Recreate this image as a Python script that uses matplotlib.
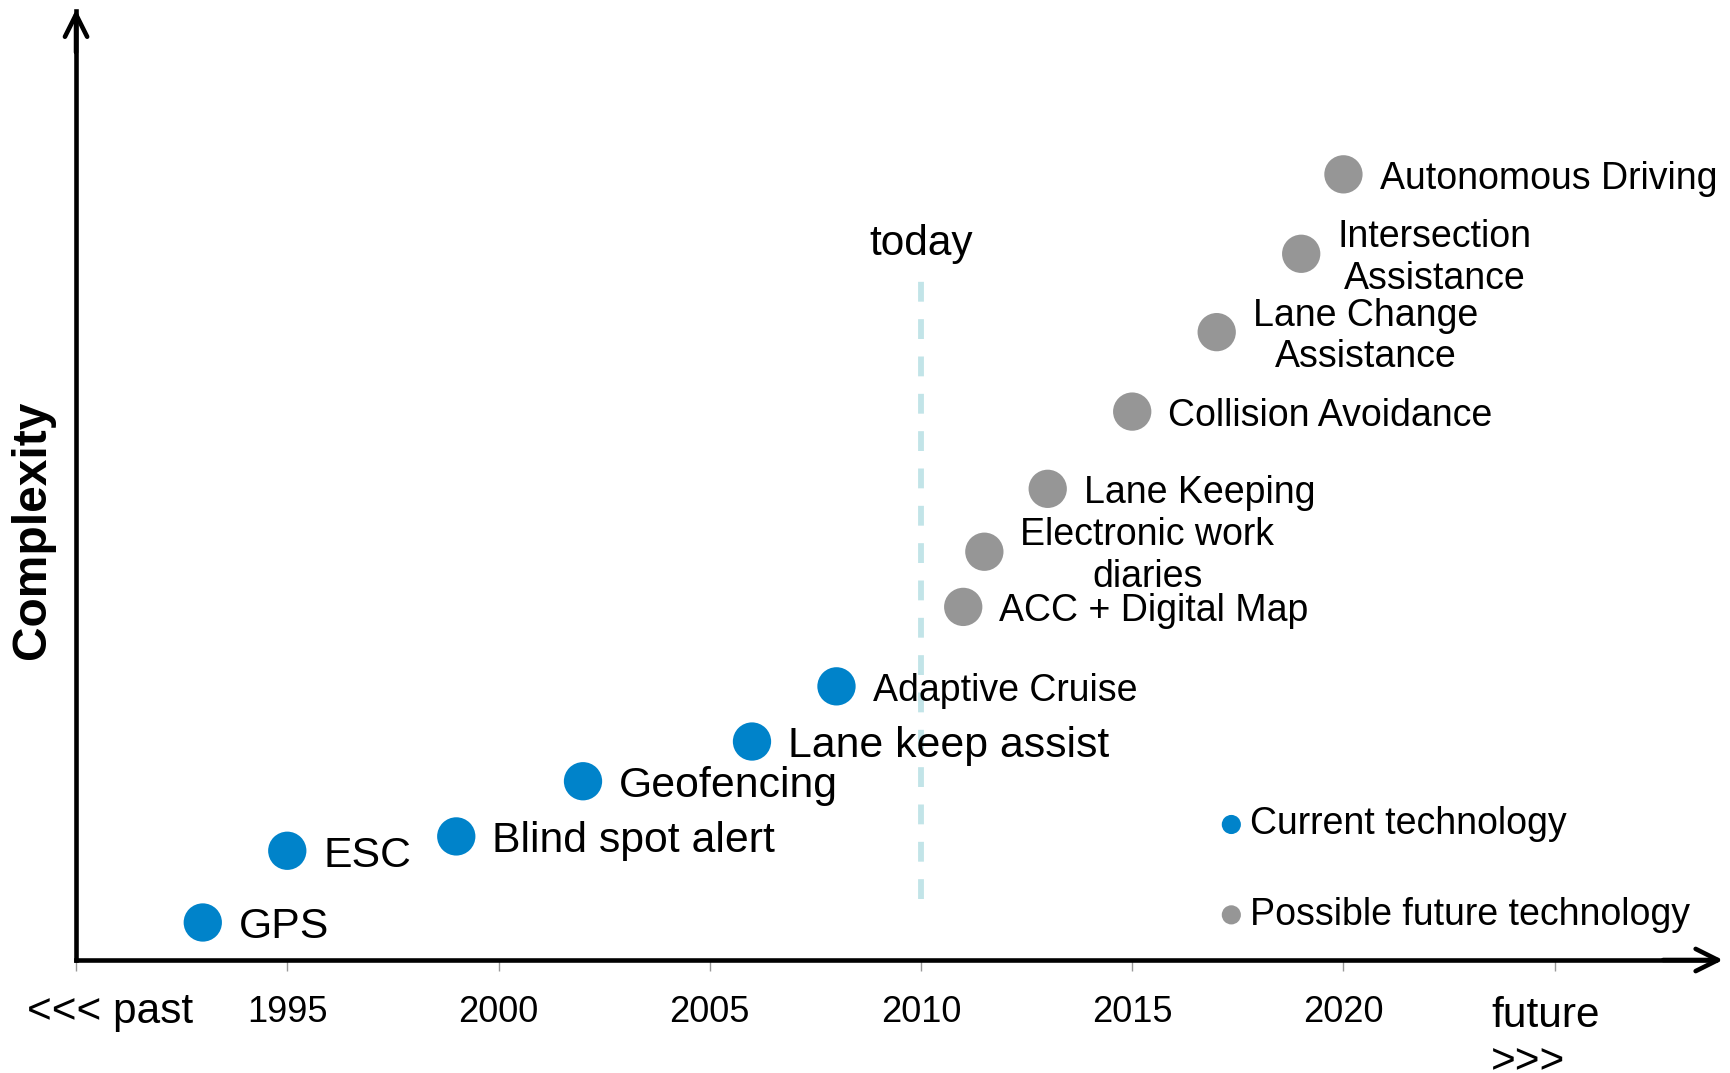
import matplotlib.pyplot as plt

plt.rcParams['font.family'] = ['Liberation Sans', 'DejaVu Sans']

# 当前技术 (蓝点)
cur_names = ['GPS', 'ESC', 'Blind spot alert', 'Geofencing',
             'Lane keep assist', 'Adaptive Cruise']
cur_year = [1993, 1995, 1999, 2002, 2006, 2008]
cur_cplx = [3.4, 9.9, 11.2, 16.2, 19.8, 24.8]

# 未来可能的技术 (灰点)
fut_names = ['ACC + Digital Map', 'Electronic work\ndiaries', 'Lane Keeping',
             'Collision Avoidance', 'Lane Change\nAssistance',
             'Intersection\nAssistance', 'Autonomous Driving']
fut_year = [2011, 2011.5, 2013, 2015, 2017, 2019, 2020]
fut_cplx = [32.0, 37.0, 42.7, 49.7, 56.9, 64.0, 71.2]

tick_years = [1990, 1995, 2000, 2005, 2010, 2015, 2020, 2025]
tick_labels = ['', '1995', '2000', '2005', '2010', '2015', '2020', '']
today = 2010

blue = '#0083ca'
grey = '#969696'
cur_fs = [30.8, 30.8, 30.8, 30.8, 30.8, 27]   # 前五个标签字号更大

fig = plt.figure(figsize=(17.3, 10.73), dpi=100)
ax = fig.add_axes([0, 0, 1, 1])
ax.set_xlim(1988.2, 2029.15)
ax.set_ylim(-10.24, 87.0)

# 坐标轴 (带箭头)
for s in ['top', 'right']:
    ax.spines[s].set_visible(False)
ax.spines['bottom'].set_position(('data', 0))
ax.spines['left'].set_position(('data', 1990))
ax.spines['bottom'].set_bounds(1990, 2028.8)
ax.spines['left'].set_bounds(0, 86.0)
ax.spines['bottom'].set_linewidth(3.3)
ax.spines['left'].set_linewidth(3.3)
ax.annotate('', xy=(2029.05, 0), xytext=(2027.5, 0),
            arrowprops=dict(arrowstyle='->', lw=3.3, mutation_scale=40, color='k'))
ax.annotate('', xy=(1990, 86.4), xytext=(1990, 82),
            arrowprops=dict(arrowstyle='->', lw=3.3, mutation_scale=40, color='k'))

ax.set_xticks(tick_years)
ax.set_xticklabels(tick_labels, fontsize=26)
ax.tick_params(axis='x', direction='out', length=8, width=1, color='#999999', pad=17)
ax.set_yticks([])

ax.text(1990.8, -4.7, '<<< past', fontsize=30.5, ha='center', va='center')
ax.text(2023.5, -7.2, 'future\n>>>', fontsize=30.5, ha='left', va='center')
ax.text(1988.98, 39.0, 'Complexity', fontsize=34.5, fontweight='bold',
        rotation=90, ha='center', va='center')

# today 虚线
ax.vlines(today, 5.5, 61.6, colors='#c2e4e8', lw=4.2, linestyles=(0, (3.4, 3.0)))
ax.text(today, 64.9, 'today', fontsize=30.5, ha='center', va='center')

ax.scatter(cur_year, cur_cplx, s=760, color=blue, edgecolors='none', zorder=3,
           label='Current technology')
ax.scatter(fut_year, fut_cplx, s=760, color=grey, edgecolors='none', zorder=3,
           label='Possible future technology')

for name, x, y, fs in zip(cur_names, cur_year, cur_cplx, cur_fs):
    ax.annotate(name, (x, y), xytext=(26, -3.5), textcoords='offset points',
                fontsize=fs, ha='left', va='center')
for name, x, y in zip(fut_names, fut_year, fut_cplx):
    ax.annotate(name, (x, y), xytext=(26, -3), textcoords='offset points',
                fontsize=27, ha='left', va='center', multialignment='center')

ax.legend(loc='center left', bbox_to_anchor=(2017.08, 8.2),
          bbox_transform=ax.transData, frameon=False, fontsize=27,
          markerscale=0.5, handlelength=0.6, handletextpad=0.2,
          labelspacing=1.45, borderpad=0, borderaxespad=0)

plt.savefig('out.png', dpi=100)
